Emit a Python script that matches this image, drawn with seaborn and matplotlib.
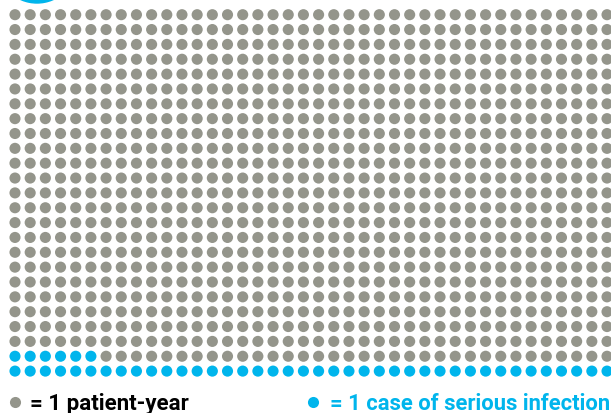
import numpy as np
import pandas as pd
import matplotlib
matplotlib.use("Agg")
import matplotlib.pyplot as plt
import matplotlib.patches as mpatches
import matplotlib.transforms as mtransforms
import seaborn as sns

# Waffle data: 1 dot = 1 patient-year, blue dots = serious infections
total_patient_years = 1000
serious_infections = 46
n_columns = 40
categories = ["patient-year", "serious infection"]
legend_labels = ["= 1 patient-year", "= 1 case of serious infection"]
palette = {"patient-year": "#94958b", "serious infection": "#00b5ec"}

# build the grid table, filled from the bottom-left corner
idx = np.arange(total_patient_years)
n_rows = total_patient_years // n_columns
df = pd.DataFrame({
    "col": idx % n_columns,
    "row": n_rows - 1 - idx // n_columns,
    "kind": np.where(idx < serious_infections, categories[1], categories[0]),
})

sns.set_style("white")
fig = plt.figure(figsize=(6.11, 4.14), dpi=100)
ax = fig.add_axes([0, 0, 1, 1])

sns.scatterplot(data=df, x="col", y="row", hue="kind", palette=palette,
                s=64, linewidth=0, legend=False, ax=ax)

# pixel-ish layout: column spacing ~15.2px, row spacing ~14.85px
xs, ys = 15.18, 14.85
ax.set_xlim(-15 / xs, (611 - 15) / xs)
ax.set_ylim((414 - 15.7) / ys, -15.7 / ys)
ax.axis("off")

# legend row (dot position, text start/end in pixels)
leg_y = (403 - 15.7) / ys
dot_px = [15, 313]
text_px = [(30, 188), (330, 610)]
text_colors = ["black", palette[categories[1]]]
renderer = fig.canvas.get_renderer()
for dx, (t0, t1), cat, lab, tc in zip(dot_px, text_px, categories, legend_labels, text_colors):
    ax.scatter([(dx - 15) / xs], [leg_y], s=64, color=palette[cat], linewidth=0, clip_on=False)
    t = ax.text((t0 - 15) / xs, leg_y + 0.08, lab, color=tc, fontsize=13.5, fontweight="bold",
                family=["Roboto", "DejaVu Sans"], va="center", ha="left")
    # fit the label to the width it has in the original
    w = t.get_window_extent(renderer).width
    t.set_fontsize(13.5 * (t1 - t0) / w)

# badge peeking in at the top-left corner
badge = mpatches.Circle((37, 414 + 36), 40, color=palette[categories[1]],
                        transform=mtransforms.IdentityTransform(), clip_on=False)
fig.patches.append(badge)

fig.savefig("out.png", dpi=100)
